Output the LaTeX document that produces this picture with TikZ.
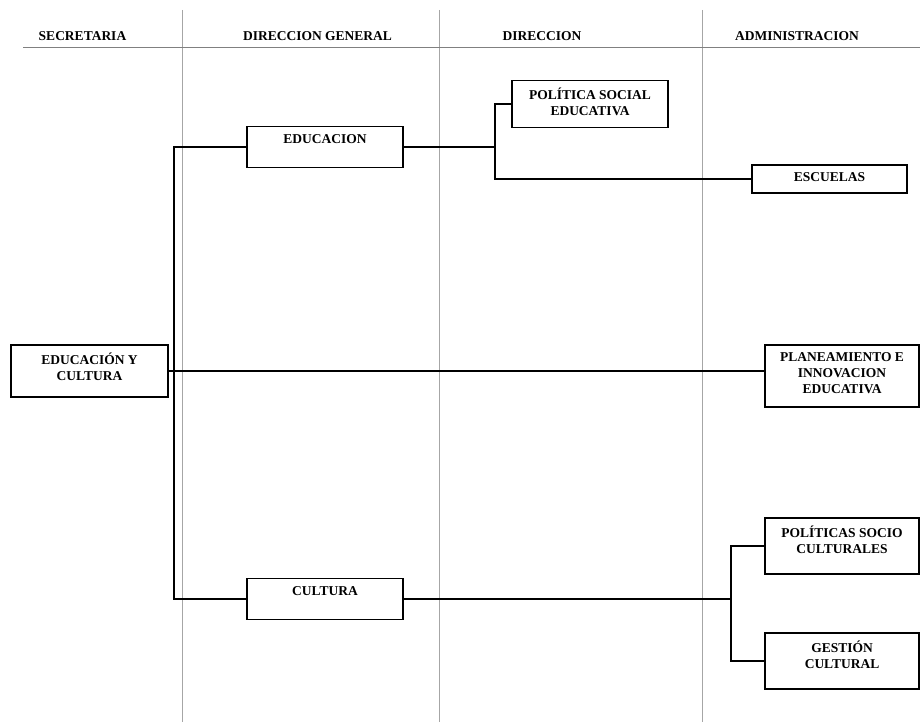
\documentclass[tikz,border=0pt]{standalone}
\usepackage{fontspec}
\setmainfont{Liberation Serif}
\begin{document}
\begin{tikzpicture}[x=1pt,y=-1pt,
    box/.style 2 args={draw,line width=1.2pt,minimum width=#1,minimum height=#2,inner sep=0pt},
    txt/.style={font=\bfseries\fontsize{13.5}{16}\selectfont,align=center,anchor=north,yshift=-8pt,inner sep=0pt},
    head/.style={font=\bfseries\fontsize{13.5}{16}\selectfont,inner sep=0pt},
    rule/.style={draw=black!35,line width=.9pt},
    link/.style={draw,line width=1.2pt}]
\useasboundingbox (0,0) rectangle (920,722);
\foreach \x in {182,439,702} \draw[rule] (\x,10) -- (\x,722);
\draw[rule,draw=black!50] (23,47) -- (920,47);
\node[head] (hs) at (82.5,36) {SECRETARIA};
\node[head] (hg) at (317.5,36) {DIRECCION GENERAL};
\node[head] (hd) at (542,36) {DIRECCION};
\node[head] (ha) at (797,36) {ADMINISTRACION};
\node[box={157}{52},label={[txt]north:{EDUCACIÓN Y\\CULTURA}}] (ec) at (89.5,371) {};
\node[box={156}{41},label={[txt]north:EDUCACION}] (ed) at (325,147) {};
\node[box={156}{41},label={[txt]north:CULTURA}] (cu) at (325,599) {};
\node[box={156}{47},label={[txt]north:{POLÍTICA SOCIAL\\EDUCATIVA}}] (ps) at (590,104) {};
\node[box={155}{28},label={[txt]north:ESCUELAS}] (es) at (829.5,179) {};
\node[box={154}{62},label={[txt]north:{PLANEAMIENTO E\\INNOVACION\\EDUCATIVA}}] (pl) at (842,376) {};
\node[box={154}{56},label={[txt]north:{POLÍTICAS SOCIO\\CULTURALES}}] (pc) at (842,546) {};
\node[box={154}{56},label={[txt]north:{GESTIÓN\\CULTURAL}}] (gc) at (842,661) {};
\coordinate (tr) at (174,371);
\coordinate (j1) at (495,147);
\coordinate (j2) at (731,599);
\draw[link] (node cs:name=ed,anchor=west) -| (tr) |- (node cs:name=cu,anchor=west);
\draw[link] (node cs:name=ec,anchor=east) -- (ec.east -| pl.west);
\draw[link] (node cs:name=ed,anchor=east) -- (j1);
\draw[link] (node cs:name=ps,anchor=west) -| (j1) |- (node cs:name=es,anchor=west);
\draw[link] (node cs:name=cu,anchor=east) -- (j2);
\draw[link] (node cs:name=pc,anchor=west) -| (j2) |- (node cs:name=gc,anchor=west);
\end{tikzpicture}
\end{document}
